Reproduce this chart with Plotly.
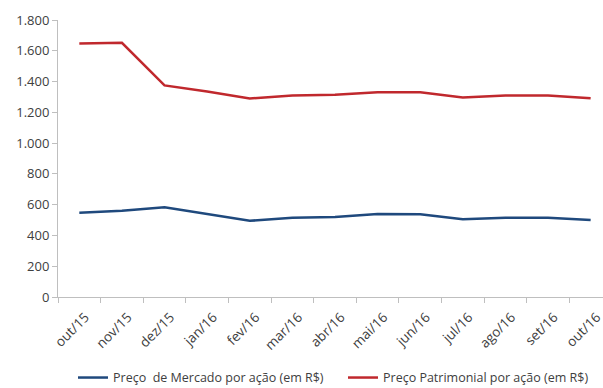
import plotly.graph_objects as go

categories = ["out/15", "nov/15", "dez/15", "jan/16", "fev/16", "mar/16", "abr/16",
              "mai/16", "jun/16", "jul/16", "ago/16", "set/16", "out/16"]
mercado = [548, 560, 583, 540, 495, 515, 520, 540, 537, 505, 515, 515, 500]
patrimonial = [1648, 1652, 1375, 1335, 1290, 1310, 1315, 1330, 1330, 1297, 1310, 1310, 1292]
y_ticks = [0, 200, 400, 600, 800, 1000, 1200, 1400, 1600, 1800]

fig = go.Figure()
fig.add_trace(go.Scatter(x=categories, y=mercado, mode="lines",
                         name="Preço  de Mercado por ação (em R$)",
                         line=dict(color="#1F497D", width=2.5), legend="legend"))
fig.add_trace(go.Scatter(x=categories, y=patrimonial, mode="lines",
                         name="Preço Patrimonial por ação (em R$)",
                         line=dict(color="#C0282D", width=2.5), legend="legend2"))

xfnt = dict(family="Open Sans, sans-serif", size=13.5, color="#404040")
yfnt = dict(family="Open Sans, sans-serif", size=13, color="#404040")
leg_font = dict(family="Open Sans, sans-serif", size=12.5, color="#404040")
fig.update_layout(
    width=603, height=388,
    margin=dict(l=58, r=0, t=20, b=91, autoexpand=False),
    plot_bgcolor="white", paper_bgcolor="white",
    separators=",.",
    font=yfnt,
    showlegend=True,
    legend=dict(orientation="h", xref="container", x=73/603, xanchor="left",
                yref="container", y=0.026, yanchor="middle", font=leg_font),
    legend2=dict(orientation="h", xref="container", x=343/603, xanchor="left",
                 yref="container", y=0.026, yanchor="middle", font=leg_font),
    xaxis=dict(type="category", range=[-0.5, 12.29], tickson="boundaries",
               ticks="outside", ticklen=5, tickcolor="#BFBFBF", automargin=False,
               showline=True, linecolor="#BFBFBF", linewidth=1,
               ticklabelstandoff=6, ticklabelshift=6,
               showgrid=False, tickangle=-45, tickfont=xfnt, zeroline=False),
    yaxis=dict(range=[0, 1800], tickvals=y_ticks, tickformat=",d", automargin=False,
               ticks="outside", ticklen=5, tickcolor="#BFBFBF",
               showline=True, linecolor="#BFBFBF", linewidth=1,
               showgrid=False, zeroline=False, tickfont=yfnt),
)

fig.write_html("out.html")
